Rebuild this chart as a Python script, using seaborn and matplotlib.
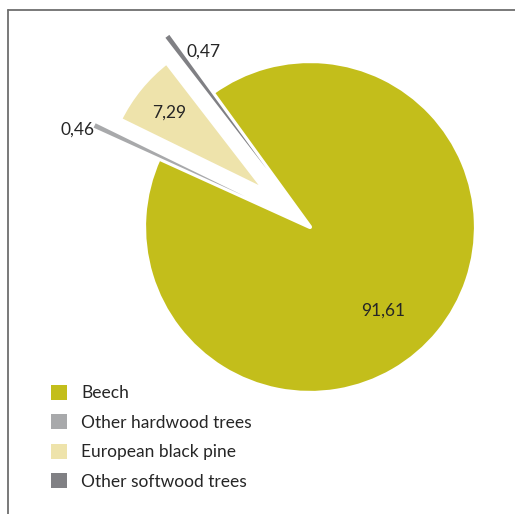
import matplotlib
matplotlib.use("Agg")
import matplotlib.pyplot as plt
from matplotlib.lines import Line2D
from matplotlib.patches import Patch
import seaborn as sns

# Share of growing stock by tree species (%)
species = ["Beech", "Other hardwood trees", "European black pine", "Other softwood trees"]
shares = [91.61, 0.46, 7.29, 0.47]
colors = ["#C3BE1B", "#A8A9AB", "#EEE3AB", "#808084"]

sns.set_theme(style="white")
plt.rcParams["font.family"] = ["Lato", "DejaVu Sans"]

W, H = 515, 514
fig = plt.figure(figsize=(W / 100, H / 100), dpi=100)
ax = fig.add_axes([0, 0, 1, 1])

# pie centre at pixel (310, 227), unit radius = 164 px
cx, cy, R = 310, 227, 164
explode = [0, 0.44, 0.33, 0.44]
wedges, _ = ax.pie(shares, colors=colors, explode=explode, startangle=125.95,
                   counterclock=False, radius=1.012,
                   wedgeprops=dict(linewidth=0))
# white borders on the two large slices
wedges[0].set_edgecolor("white")
wedges[0].set_linewidth(3)
wedges[0].set_joinstyle("round")
wedges[2].set_edgecolor("white")
wedges[2].set_linewidth(4)

ax.set_xlim(-cx / R, (W - cx) / R)
ax.set_ylim(-(H - cy) / R, cy / R)
ax.set_aspect("equal")
ax.axis("off")

# value labels
label_pos = [(0.445, -0.512), (-1.415, 0.591), (-0.860, 0.697), (-0.652, 1.069)]
for v, (x, y) in zip(shares, label_pos):
    ax.text(x, y, f"{v:.2f}".replace(".", ","), ha="center", va="center",
            fontsize=12.5, color="#262626")

handles = [Patch(facecolor=c, edgecolor="none") for c in colors]
leg = ax.legend(handles, species, loc="upper left",
                bbox_to_anchor=(51 / W, 1 - 385 / H), bbox_transform=fig.transFigure,
                frameon=False, fontsize=12.5, handlelength=0.92, handleheight=0.92,
                handletextpad=0.82, labelspacing=0.76, borderpad=0, borderaxespad=0)
for t in leg.get_texts():
    t.set_color("#262626")

# frame lines along the top and left edge
line_kw = dict(color="#6E6E6E", linewidth=1.3, transform=fig.transFigure)
fig.add_artist(Line2D([8 / W, 1], [1 - 10 / H, 1 - 10 / H], **line_kw))
fig.add_artist(Line2D([8 / W, 8 / W], [0, 1 - 10 / H], **line_kw))

fig.savefig("out.png", dpi=100, facecolor="white")
